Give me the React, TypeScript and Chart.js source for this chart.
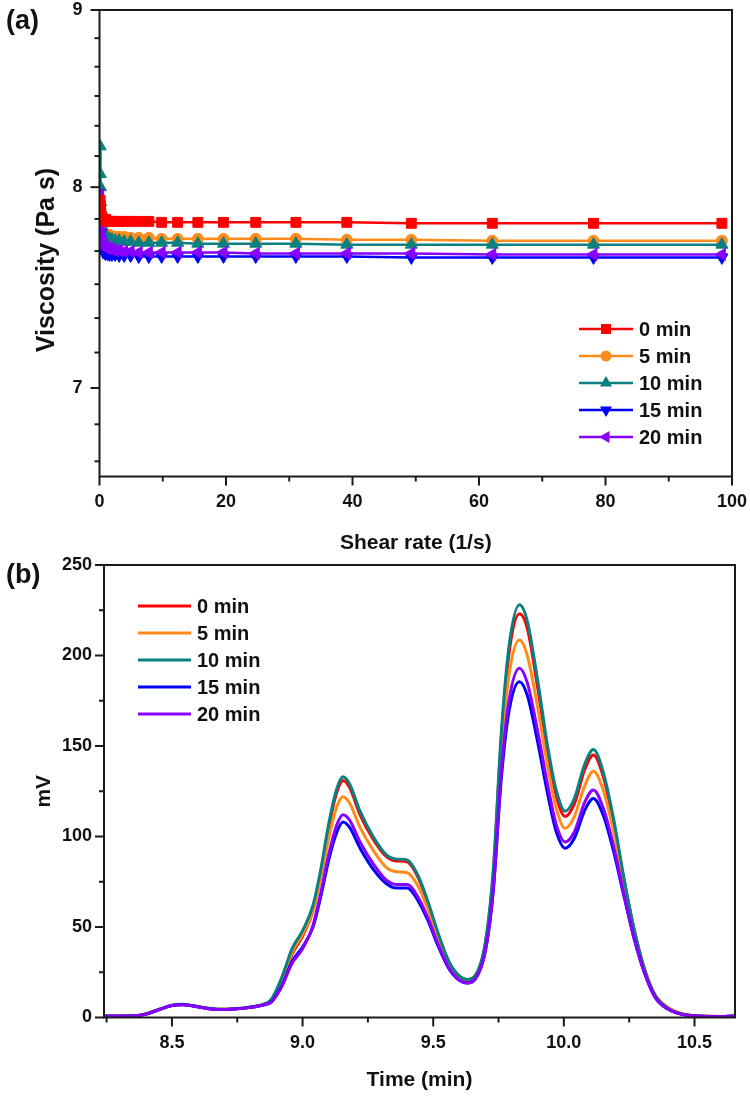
import React, { useEffect, useRef } from 'react';
import { Chart, registerables } from 'chart.js';

Chart.register(...registerables);

const FONT = '"Liberation Sans", Arial, Helvetica, sans-serif';

// ---------- (a) viscosity vs shear rate ----------
const SHEAR_RATE = [0.1, 0.125, 0.158, 0.2, 0.25, 0.315, 0.395, 0.5, 0.625, 0.785, 0.98, 1.23, 1.56, 1.96, 2.47, 3.1, 3.9, 4.92, 6.2, 7.8, 9.82, 12.35, 15.55, 19.6, 24.7, 31.05, 39.1, 49.3, 62.1, 78.1, 98.4];
const VISC_0 = [7.93, 7.9, 7.88, 7.86, 7.85, 7.84, 7.84, 7.83, 7.83, 7.83, 7.83, 7.82, 7.82, 7.82, 7.82, 7.82, 7.82, 7.82, 7.82, 7.82, 7.815, 7.815, 7.815, 7.815, 7.815, 7.815, 7.815, 7.81, 7.81, 7.81, 7.81];
const VISC_5 = [7.92, 7.88, 7.85, 7.82, 7.8, 7.79, 7.78, 7.77, 7.76, 7.76, 7.755, 7.75, 7.75, 7.745, 7.74, 7.74, 7.74, 7.735, 7.735, 7.735, 7.73, 7.73, 7.73, 7.73, 7.73, 7.73, 7.725, 7.725, 7.72, 7.72, 7.72];
const VISC_10 = [8.22, 8.07, 8.0, 7.92, 7.86, 7.82, 7.79, 7.77, 7.76, 7.75, 7.74, 7.735, 7.73, 7.725, 7.72, 7.72, 7.715, 7.715, 7.71, 7.71, 7.71, 7.71, 7.705, 7.705, 7.705, 7.705, 7.7, 7.7, 7.7, 7.7, 7.7];
const VISC_15 = [7.76, 7.73, 7.71, 7.7, 7.69, 7.68, 7.675, 7.67, 7.665, 7.66, 7.655, 7.655, 7.65, 7.65, 7.65, 7.645, 7.645, 7.645, 7.64, 7.64, 7.64, 7.64, 7.64, 7.64, 7.64, 7.64, 7.64, 7.635, 7.635, 7.635, 7.635];
const VISC_20 = [7.96, 7.9, 7.85, 7.8, 7.77, 7.75, 7.73, 7.71, 7.7, 7.69, 7.685, 7.68, 7.68, 7.675, 7.67, 7.67, 7.665, 7.665, 7.66, 7.66, 7.66, 7.66, 7.66, 7.66, 7.655, 7.655, 7.655, 7.655, 7.65, 7.65, 7.65];
const X_TICKS_A = [0, 10, 20, 30, 40, 50, 60, 70, 80, 90, 100];
const Y_TICKS_A = [6.667, 6.833, 7, 7.167, 7.333, 7.5, 7.667, 7.833, 8, 8.167, 8.333, 8.5, 8.667, 8.833, 9];

// ---------- (b) chromatogram ----------
const TIME = [8.24, 8.3, 8.36, 8.4, 8.45, 8.5, 8.54, 8.58, 8.63, 8.68, 8.74, 8.8, 8.85, 8.88, 8.92, 8.96, 9.0, 9.04, 9.07, 9.1, 9.13, 9.155, 9.18, 9.22, 9.27, 9.32, 9.36, 9.4, 9.44, 9.48, 9.52, 9.56, 9.6, 9.63, 9.66, 9.7, 9.73, 9.76, 9.79, 9.83, 9.86, 9.9, 9.94, 9.97, 10.005, 10.04, 10.08, 10.113, 10.15, 10.19, 10.23, 10.27, 10.31, 10.35, 10.4, 10.45, 10.52, 10.6, 10.655];
const MV_0 = [0.8, 0.8, 1.0, 2.0, 4.4, 6.7, 7.2, 6.5, 5.2, 4.5, 4.8, 5.7, 7.1, 9.5, 20, 35, 45, 59, 80, 105, 124, 131, 127, 112, 98.5, 89, 86.5, 86, 78, 63, 45.5, 30.5, 22.5, 20.5, 22.5, 41, 80, 153, 201, 223, 215, 182, 145, 123, 111, 118, 137, 145, 133.5, 108, 76, 48, 26, 12, 5, 2, 0.8, 0.6, 0.8];
const MV_5 = [0.8, 0.8, 1.0, 2.0, 4.4, 6.7, 7.2, 6.5, 5.2, 4.5, 4.8, 5.7, 7.1, 9.5, 20.5, 36, 46, 59, 77, 99, 116, 122, 118.5, 105, 92.5, 83, 80.5, 80, 73, 59.5, 43.5, 30, 22.5, 21, 23, 40, 77, 145, 189, 208.5, 200, 171, 137, 116, 104.5, 111, 128, 136, 126, 103, 74, 47, 26.5, 12.5, 5.5, 2.2, 0.8, 0.6, 0.8];
const MV_10 = [0.8, 0.8, 1.0, 2.0, 4.5, 6.8, 7.3, 6.6, 5.3, 4.6, 4.9, 5.8, 7.3, 10, 22, 38, 48, 62, 82, 107, 126, 133, 129, 114, 100, 90, 87.5, 87, 79, 64, 46, 31, 23, 21, 23, 42, 82, 156, 205, 228, 219, 186, 148, 126, 114, 121, 140, 148, 136, 110, 77, 48, 26, 12, 5, 2, 0.8, 0.6, 0.8];
const MV_15 = [0.7, 0.7, 0.9, 1.8, 4.3, 6.6, 7.1, 6.4, 5.1, 4.4, 4.7, 5.6, 6.9, 8.5, 17.5, 31, 39, 50, 67, 87, 102, 108, 105, 93.5, 82, 74, 71.5, 71.5, 65, 53.5, 39, 27, 20.5, 19, 21, 37, 70, 131, 169, 185.5, 178, 152, 122, 103, 93.5, 99, 114.5, 121, 112, 92, 67, 43, 24, 11, 4.5, 1.8, 0.7, 0.6, 0.8];
const MV_20 = [0.7, 0.7, 0.9, 1.8, 4.3, 6.6, 7.1, 6.4, 5.1, 4.4, 4.7, 5.6, 6.9, 8.5, 17, 30, 38, 51, 69, 90, 106, 112, 109, 97, 85, 76, 73.5, 73.5, 67, 55, 40, 27.5, 20.5, 19, 21, 37, 71, 135, 175, 193, 185, 158, 127, 107, 97, 102.5, 119, 125.7, 116, 95, 68, 43, 24, 11, 4.5, 1.8, 0.7, 0.6, 0.8];
const X_TICKS_B = [8.25, 8.5, 8.75, 9.0, 9.25, 9.5, 9.75, 10.0, 10.25, 10.5];
const Y_TICKS_B = [0, 25, 50, 75, 100, 125, 150, 175, 200, 225, 250];

const LABELS = ['0 min', '5 min', '10 min', '15 min', '20 min'];
const COLORS = ['#ff0000', '#ff8c1a', '#0b8080', '#0000ff', '#8a00ff'];
const MARKERS = ['square', 'circle', 'triUp', 'triDown', 'triLeft'];

type MajorFn = (v: number) => boolean;

function zeroPadding(s: any) {
  s.paddingTop = 0;
  s.paddingBottom = 0;
  s.paddingLeft = 0;
  s.paddingRight = 0;
}

function makeFramePlugin(id: string, xMajor: MajorFn, yMajor: MajorFn, majorLen: number, minorLen: number) {
  return {
    id,
    afterDatasetsDraw(chart: any) {
      const { ctx, chartArea: ca } = chart;
      ctx.save();
      ctx.strokeStyle = '#1a1a1a';
      ctx.lineWidth = 2;
      ctx.strokeRect(ca.left, ca.top, ca.right - ca.left, ca.bottom - ca.top);
      const xs = chart.scales.x;
      xs.ticks.forEach((t: any) => {
        const p = xs.getPixelForValue(t.value);
        const len = xMajor(t.value) ? majorLen : minorLen;
        ctx.beginPath();
        ctx.moveTo(p, ca.bottom);
        ctx.lineTo(p, ca.bottom + len);
        ctx.stroke();
      });
      const ys = chart.scales.y;
      ys.ticks.forEach((t: any) => {
        const p = ys.getPixelForValue(t.value);
        const len = yMajor(t.value) ? majorLen : minorLen;
        ctx.beginPath();
        ctx.moveTo(ca.left, p);
        ctx.lineTo(ca.left - len, p);
        ctx.stroke();
      });
      ctx.restore();
    },
  };
}

// vertical axis title drawn at a chosen centre (the original is not centred on the plot)
function makeYTitlePlugin(id: string, text: string, cx: number, cy: number, font: string) {
  return {
    id,
    afterDraw(chart: any) {
      const ctx = chart.ctx as CanvasRenderingContext2D;
      ctx.save();
      ctx.translate(cx, cy);
      ctx.rotate(-Math.PI / 2);
      ctx.font = font;
      ctx.fillStyle = '#111';
      ctx.textAlign = 'center';
      ctx.textBaseline = 'middle';
      ctx.fillText(text, 0, 0);
      ctx.restore();
    },
  };
}

function drawMarker(ctx: CanvasRenderingContext2D, kind: string, x: number, y: number, color: string) {
  ctx.fillStyle = color;
  ctx.beginPath();
  if (kind === 'square') {
    ctx.rect(x - 5, y - 5, 10, 10);
  } else if (kind === 'circle') {
    ctx.arc(x, y, 5.5, 0, Math.PI * 2);
  } else {
    const r = 7;
    const rot = kind === 'triUp' ? 0 : kind === 'triDown' ? Math.PI : -Math.PI / 2;
    for (let k = 0; k < 3; k++) {
      const a = rot + k * (2 * Math.PI / 3);
      const px = x + r * Math.sin(a);
      const py = y - r * Math.cos(a);
      if (k === 0) ctx.moveTo(px, py); else ctx.lineTo(px, py);
    }
    ctx.closePath();
  }
  ctx.fill();
}

function makeLegendPlugin(id: string, cfg: { x0: number; x1: number; textX: number; y0: number; dy: number; lineWidth: number; markers: boolean; font: string }) {
  return {
    id,
    afterDraw(chart: any) {
      const ctx = chart.ctx as CanvasRenderingContext2D;
      ctx.save();
      LABELS.forEach((label, i) => {
        const y = cfg.y0 + i * cfg.dy;
        ctx.strokeStyle = COLORS[i];
        ctx.lineWidth = cfg.lineWidth;
        ctx.beginPath();
        ctx.moveTo(cfg.x0, y);
        ctx.lineTo(cfg.x1, y);
        ctx.stroke();
        if (cfg.markers) drawMarker(ctx, MARKERS[i], (cfg.x0 + cfg.x1) / 2, y, COLORS[i]);
        ctx.fillStyle = '#111';
        ctx.font = cfg.font;
        ctx.textAlign = 'left';
        ctx.textBaseline = 'middle';
        ctx.fillText(label, cfg.textX, y + 1);
      });
      ctx.restore();
    },
  };
}

const tickFont = { family: FONT, size: 18, weight: 'bold' as const };

function buildConfigA(): any {
  const series = [VISC_0, VISC_5, VISC_10, VISC_15, VISC_20];
  const styles = [
    { pointStyle: 'rect', radius: 7, rotation: 0, order: 1 },
    { pointStyle: 'circle', radius: 5.5, rotation: 0, order: 5 },
    { pointStyle: 'triangle', radius: 7, rotation: 0, order: 4 },
    { pointStyle: 'triangle', radius: 7, rotation: 180, order: 3 },
    { pointStyle: 'triangle', radius: 7, rotation: -90, order: 2 },
  ];
  return {
    type: 'line',
    data: {
      datasets: series.map((vals, i) => ({
        label: LABELS[i],
        data: SHEAR_RATE.map((x, j) => ({ x, y: vals[j] })),
        borderColor: COLORS[i],
        backgroundColor: COLORS[i],
        borderWidth: 2.5,
        pointStyle: styles[i].pointStyle,
        pointRadius: styles[i].radius,
        pointRotation: styles[i].rotation,
        pointBorderWidth: 1,
        pointBorderColor: COLORS[i],
        pointBackgroundColor: COLORS[i],
        order: styles[i].order,
        tension: 0,
      })),
    },
    options: {
      responsive: false,
      animation: false,
      events: [],
      layout: { padding: { top: 10, right: 18, left: 0, bottom: 0 } },
      plugins: { legend: { display: false }, tooltip: { enabled: false } },
      scales: {
        x: {
          type: 'linear',
          min: 0,
          max: 100,
          afterBuildTicks: (s: any) => { s.ticks = X_TICKS_A.map((v) => ({ value: v })); },
          afterFit: (s: any) => { s.height = 83.5; zeroPadding(s); },
          grid: { display: false, drawTicks: false },
          border: { display: false },
          ticks: {
            autoSkip: false,
            maxRotation: 0,
            padding: 15,
            color: '#111',
            font: tickFont,
            callback: (v: number) => (v % 20 === 0 ? String(v) : ''),
          },
          title: {
            display: true,
            text: 'Shear rate (1/s)',
            color: '#111',
            font: { family: FONT, size: 21, weight: 'bold' },
            padding: { top: 0, bottom: 4 },
          },
        },
        y: {
          type: 'logarithmic',
          min: 6.6,
          max: 9,
          afterBuildTicks: (s: any) => { s.ticks = Y_TICKS_A.map((v) => ({ value: v })); },
          afterFit: (s: any) => { s.width = 99.5; zeroPadding(s); },
          grid: { display: false, drawTicks: false },
          border: { display: false },
          ticks: {
            autoSkip: false,
            padding: 17,
            color: '#111',
            font: tickFont,
            callback: (v: number) => (Math.abs(v - Math.round(v)) < 1e-6 ? String(Math.round(v)) : ''),
          },
          title: { display: false },
        },
      },
    },
    plugins: [
      makeFramePlugin('frameA', (v) => v % 20 === 0, (v) => Math.abs(v - Math.round(v)) < 1e-6, 9, 5),
      makeYTitlePlugin('ytitleA', 'Viscosity (Pa s)', 47, 260, `bold 25px ${FONT}`),
      makeLegendPlugin('legendA', { x0: 579, x1: 633, textX: 639, y0: 329, dy: 27, lineWidth: 2.5, markers: true, font: `bold 20px ${FONT}` }),
    ],
  };
}

function buildConfigB(): any {
  const series = [MV_0, MV_5, MV_10, MV_15, MV_20];
  const orders = [5, 4, 3, 2, 1];
  return {
    type: 'line',
    data: {
      datasets: series.map((vals, i) => ({
        label: LABELS[i],
        data: TIME.map((x, j) => ({ x, y: vals[j] })),
        borderColor: COLORS[i],
        backgroundColor: COLORS[i],
        borderWidth: 3,
        pointRadius: 0,
        cubicInterpolationMode: 'monotone',
        order: orders[i],
      })),
    },
    options: {
      responsive: false,
      animation: false,
      events: [],
      layout: { padding: { top: 15, right: 15, left: 0, bottom: 0 } },
      plugins: { legend: { display: false }, tooltip: { enabled: false } },
      scales: {
        x: {
          type: 'linear',
          min: 8.24,
          max: 10.655,
          afterBuildTicks: (s: any) => { s.ticks = X_TICKS_B.map((v) => ({ value: v })); },
          afterFit: (s: any) => { s.height = 79.5; zeroPadding(s); },
          grid: { display: false, drawTicks: false },
          border: { display: false },
          ticks: {
            autoSkip: false,
            maxRotation: 0,
            padding: 15,
            color: '#111',
            font: tickFont,
            callback: (v: number) => (Math.abs(v * 2 - Math.round(v * 2)) < 1e-6 ? v.toFixed(1) : ''),
          },
          title: {
            display: true,
            text: 'Time (min)',
            color: '#111',
            font: { family: FONT, size: 21, weight: 'bold' },
            padding: { top: 0, bottom: 4 },
          },
        },
        y: {
          type: 'linear',
          min: 0,
          max: 250,
          afterBuildTicks: (s: any) => { s.ticks = Y_TICKS_B.map((v) => ({ value: v })); },
          afterFit: (s: any) => { s.width = 104; zeroPadding(s); },
          grid: { display: false, drawTicks: false },
          border: { display: false },
          ticks: {
            autoSkip: false,
            padding: 12,
            color: '#111',
            font: tickFont,
            callback: (v: number) => (v % 50 === 0 ? String(v) : ''),
          },
          title: {
            display: true,
            text: 'mV',
            color: '#111',
            font: { family: FONT, size: 21, weight: 'bold' },
            padding: { top: 32, bottom: 0 },
          },
        },
      },
    },
    plugins: [
      makeFramePlugin('frameB', (v) => Math.abs(v * 2 - Math.round(v * 2)) < 1e-6, (v) => v % 50 === 0, 9, 5),
      makeLegendPlugin('legendB', { x0: 138, x1: 191, textX: 197, y0: 56, dy: 27, lineWidth: 3, markers: false, font: `bold 20px ${FONT}` }),
    ],
  };
}

export default function App() {
  const refA = useRef<HTMLCanvasElement>(null);
  const refB = useRef<HTMLCanvasElement>(null);

  useEffect(() => {
    const a = new Chart(refA.current as HTMLCanvasElement, buildConfigA());
    const b = new Chart(refB.current as HTMLCanvasElement, buildConfigB());
    return () => {
      a.destroy();
      b.destroy();
    };
  }, []);

  const panelLabel: React.CSSProperties = {
    position: 'absolute',
    left: 6,
    font: `bold 27px ${FONT}`,
    color: '#111',
    lineHeight: '32px',
  };

  return (
    <div style={{ position: 'absolute', left: 0, top: 0, width: 750, height: 1097, background: '#ffffff', overflow: 'hidden' }}>
      <canvas ref={refA} width={750} height={560} style={{ position: 'absolute', left: 0, top: 0, width: 750, height: 560 }} />
      <canvas ref={refB} width={750} height={547} style={{ position: 'absolute', left: 0, top: 550, width: 750, height: 547 }} />
      <div style={{ ...panelLabel, top: 4 }}>(a)</div>
      <div style={{ ...panelLabel, top: 558 }}>(b)</div>
    </div>
  );
}
